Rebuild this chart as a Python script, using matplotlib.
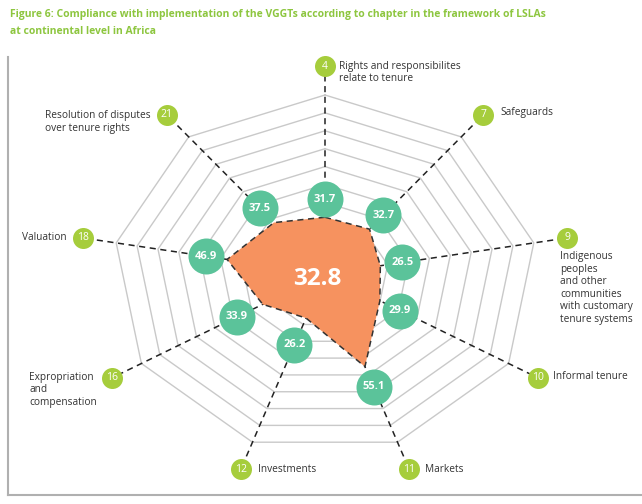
import numpy as np
import matplotlib
matplotlib.use("Agg")
import matplotlib.pyplot as plt

chapters = ["4", "7", "9", "10", "11", "12", "16", "18", "21"]
names = [
    "Rights and responsibilites\nrelate to tenure",
    "Safeguards",
    "Indigenous\npeoples\nand other\ncommunities\nwith customary\ntenure systems",
    "Informal tenure",
    "Markets",
    "Investments",
    "Expropriation\nand\ncompensation",
    "Valuation",
    "Resolution of disputes\nover tenure rights",
]
values = [31.7, 32.7, 26.5, 29.9, 55.1, 26.2, 33.9, 46.9, 37.5]
overall = 32.8
rings = [10, 20, 30, 40, 50, 60, 70, 80, 90, 100]

# layout (pixels -> points at dpi 100)
PT = 0.72
label_r = 116
bubble_gap = [10, 10, 10.5, 11, 12, 16, 14, 10, 10.5]
label_style = [
    dict(off=(14, -6), ha="left", va="center"),
    dict(off=(17, 2), ha="left", va="center"),
    dict(off=(-7, -13), ha="left", va="top"),
    dict(off=(15, 1), ha="left", va="center"),
    dict(off=(16, 0), ha="left", va="center"),
    dict(off=(17, 0), ha="left", va="center"),
    dict(off=(-15, -12), ha="right", va="center"),
    dict(off=(-16, 0), ha="right", va="center"),
    dict(off=(-16, -7), ha="right", va="center"),
]

plt.rcParams["font.family"] = ["Open Sans", "DejaVu Sans"]

GREEN_TITLE = "#8dc63f"
LIME = "#a6cd3c"
TEAL = "#5bc39a"
ORANGE = "#f6925f"
GRID = "#c9c9c9"
DARK = "#333333"

fig = plt.figure(figsize=(6.42, 5.04), dpi=100)
ax = fig.add_axes([0, 0, 1, 1])
# centre at pixel (325, 274); x scale 2.12 px/unit, y scale 1.79 px/unit
ax.set_xlim(-325 / 2.12, (642 - 325) / 2.12)
ax.set_ylim(-(504 - 274) / 1.79, 274 / 1.79)
ax.axis("off")

n = len(values)
theta = np.deg2rad(90 - 40 * np.arange(n))
cs, sn = np.cos(theta), np.sin(theta)

# grid rings
for r in rings:
    xs = np.append(r * cs, r * cs[0])
    ys = np.append(r * sn, r * sn[0])
    ax.plot(xs, ys, color=GRID, lw=1, zorder=1)

# axis spokes
for i in range(n):
    ax.plot([0, label_r * cs[i]], [0, label_r * sn[i]], color="#222222",
            lw=1.1, ls=(0, (4, 3)), zorder=2)

# data polygon
v = np.array(values)
px = np.append(v * cs, v[0] * cs[0])
py = np.append(v * sn, v[0] * sn[0])
ax.fill(px, py, color=ORANGE, zorder=3, lw=0)
ax.plot(px, py, color="#333333", lw=1.1, ls=(0, (4, 3)), zorder=4)

ax.text(-8 / 2.12, -5 / 1.79, f"{overall:.1f}", color="white", fontsize=17.5,
        fontweight="bold", ha="center", va="center", zorder=7)

# value bubbles
br = v + np.array(bubble_gap)
ax.scatter(br * cs, br * sn, s=(36 * PT) ** 2, color=TEAL, zorder=5, lw=0)
for i in range(n):
    ax.text(br[i] * cs[i], br[i] * sn[i], f"{values[i]:.1f}", color="white",
            fontsize=8, fontweight="bold", ha="center", va="center", zorder=6)

# chapter markers and names
ax.scatter(label_r * cs, label_r * sn, s=(21 * PT) ** 2, color=LIME, zorder=5, lw=0)
for i in range(n):
    lx, ly = label_r * cs[i], label_r * sn[i]
    ax.text(lx, ly, chapters[i], color="white", fontsize=7.5, ha="center",
            va="center", zorder=6)
    st = label_style[i]
    ax.annotate(names[i], (lx, ly), xytext=(st["off"][0] * PT, st["off"][1] * PT),
                textcoords="offset points", ha=st["ha"], va=st["va"],
                multialignment="left", fontsize=7.3, color=DARK, linespacing=1.2,
                zorder=6)

# title
fig.text(10 / 642, 1 - 14 / 504,
         "Figure 6: Compliance with implementation of the VGGTs according to chapter in the framework of LSLAs",
         color=GREEN_TITLE, fontsize=7.5, fontweight="bold", ha="left", va="center")
fig.text(10 / 642, 1 - 31 / 504, "at continental level in Africa",
         color=GREEN_TITLE, fontsize=7.5, fontweight="bold", ha="left", va="center")

# frame (left and bottom)
fig.add_artist(plt.Line2D([8 / 642, 8 / 642], [1 - 57 / 504, 1 - 495 / 504],
                          color="#b0b0b0", lw=1.5))
fig.add_artist(plt.Line2D([8 / 642, 1], [1 - 495 / 504, 1 - 495 / 504],
                          color="#b0b0b0", lw=1.5))

fig.savefig("out.png", dpi=100)
